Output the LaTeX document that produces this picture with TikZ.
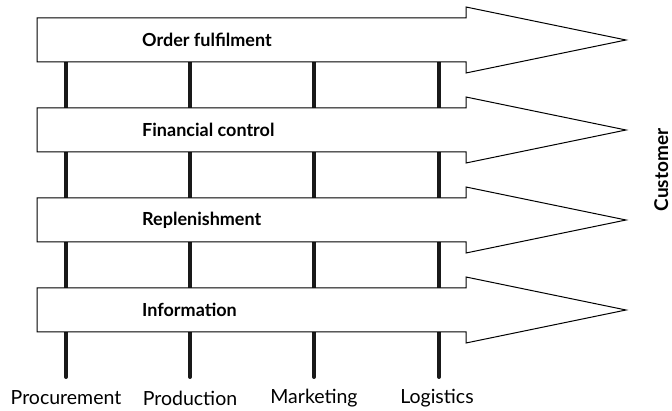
\documentclass[tikz,border=0pt]{standalone}
\usepackage{fontspec}
\setmainfont{Lato}
\begin{document}
\begin{tikzpicture}[x=1pt,y=-1pt,
  flow/.style={draw=black,line width=1pt,fill=white,line join=miter},
  bar/.style={line width=4pt,draw=black!90,line cap=round},
  flowlabel/.style={anchor=west,inner sep=0pt,font=\fontsize{18}{20}\selectfont\bfseries},
  funclabel/.style={inner sep=0pt,font=\fontsize{19.5}{21}\selectfont},
]
\useasboundingbox (0,0) rectangle (672,411);
% functions (bars)
\foreach \n/\x in {proc/66,prod/190,mark/314,logi/439}{
  \coordinate (\n top) at (\x,62);
  \coordinate (\n bot) at (\x,377);
}
\draw[bar] (proctop) -- (procbot);
\draw[bar] (prodtop) -- (prodbot);
\draw[bar] (marktop) -- (markbot);
\draw[bar] (logitop) -- (logibot);
% flow arrows
\foreach \c in {40,130,220,310}{
  \draw[flow] (37,\c-22) -- (466,\c-22) -- (466,\c-33) -- (626,\c) -- (466,\c+33) -- (466,\c+22) -- (37,\c+22) -- cycle;
}
\node[flowlabel] (of) at (142,40) {Order fulfilment};
\node[flowlabel] (fc) at (142,130) {Financial control};
\node[flowlabel] (rp) at (142,220) {Replenishment};
\node[flowlabel] (in) at (142,310) {Information};
\node[funclabel] (procl) at (66,398) {Procurement};
\node[funclabel] (prodl) at (190,398) {Production};
\node[funclabel] (markl) at (314,398) {Marketing};
\node[funclabel] (logil) at (437,398) {Logistics};
\node[inner sep=0pt,anchor=base,rotate=90,font=\fontsize{19}{21}\selectfont\bfseries] (cust) at (668,170) {Customer};
\end{tikzpicture}
\end{document}
